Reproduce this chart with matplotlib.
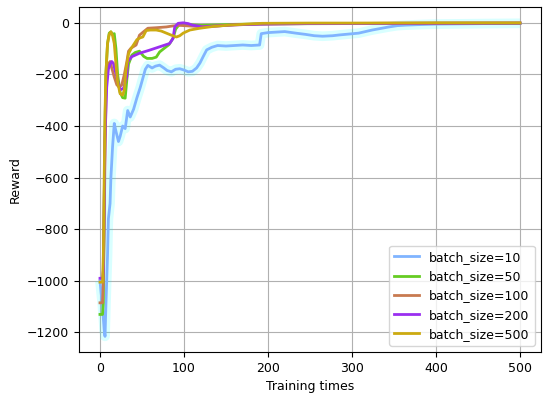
import matplotlib
matplotlib.use("Agg")
import matplotlib.pyplot as plt

# batch_size=10
x10 = [0, 3, 5, 6, 7, 9, 10, 12, 13, 15, 17, 19, 22, 24, 27, 30, 33, 36, 40, 44, 48, 51, 54, 57,
       62, 66, 71, 76, 80, 85, 90, 95, 100, 105, 110, 115, 119, 123, 127, 133, 140, 150, 160, 170,
       180, 190, 192, 200, 210, 220, 233, 245, 255, 265, 277, 285, 295, 308, 316, 324, 334, 344,
       354, 364, 380, 400, 430, 460, 500]
y10 = [-1000, -1100, -1190, -1215, -1100, -900, -760, -700, -600, -480, -390, -420, -460, -440,
       -400, -410, -340, -365, -335, -290, -250, -215, -180, -165, -175, -168, -164, -175, -185,
       -190, -180, -178, -183, -190, -188, -175, -156, -130, -105, -95, -88, -90, -88, -86, -88,
       -86, -42, -38, -36, -34, -40, -45, -50, -52, -50, -47, -44, -40, -34, -28, -22, -16, -11,
       -9, -7, -5, -4, -3, -2]

# batch_size=50
x50 = [0, 3, 4, 5, 6, 7, 9, 11, 13, 15, 17, 19, 21, 24, 27, 30, 32, 34, 38, 42, 47, 52, 56, 62,
       67, 71, 76, 82, 87, 90, 94, 100, 110, 120, 140, 160, 200, 300, 400, 500]
y50 = [-1130, -1130, -1085, -700, -400, -200, -80, -40, -35, -45, -42, -100, -200, -270, -290,
       -292, -220, -160, -125, -115, -110, -130, -138, -138, -133, -113, -100, -85, -60, -25, -8,
       -5, -8, -10, -8, -6, -4, -3, -2, -2]

# batch_size=100
x100 = [0, 3, 4, 5, 6, 7, 8, 10, 12, 14, 17, 20, 23, 26, 29, 32, 34, 37, 43, 47, 51, 57, 67, 79,
        87, 95, 105, 119, 140, 160, 190, 250, 350, 500]
y100 = [-1085, -1085, -1000, -800, -500, -300, -200, -160, -150, -175, -210, -240, -250, -240,
        -200, -150, -110, -98, -86, -48, -37, -21, -19, -16, -12, -10, -12, -15, -12, -8, -5, -3,
        -2, -1]

# batch_size=200
x200 = [0, 3, 4, 5, 6, 8, 10, 12, 14, 16, 18, 20, 22, 24, 28, 32, 33, 38, 47, 59, 71, 83, 87, 89,
        93, 99, 105, 110, 116, 122, 140, 160, 190, 250, 350, 500]
y200 = [-990, -990, -960, -700, -450, -250, -180, -160, -150, -157, -185, -208, -240, -260, -254,
        -208, -150, -131, -118, -106, -93, -80, -60, -16, -2, 0, -3, -9, -12, -16, -12, -8, -5, -3,
        -2, -1]

# batch_size=500
x500 = [0, 3, 4, 5, 6, 7, 9, 11, 13, 15, 17, 19, 21, 24, 27, 29, 31, 34, 37, 40, 44, 48, 51, 55,
        60, 67, 73, 79, 85, 91, 95, 99, 107, 119, 135, 154, 175, 193, 250, 300, 400, 500]
y500 = [-1005, -1005, -900, -600, -350, -200, -80, -45, -35, -50, -80, -160, -230, -275, -280,
        -260, -180, -120, -100, -85, -65, -58, -55, -30, -28, -28, -32, -40, -48, -55, -50, -40,
        -28, -21, -14, -9, -5, -2, -1, -1, 0, 0]

series = [
    (x10, y10, "#80b4ff", "batch_size=10"),
    (x50, y50, "#66cc22", "batch_size=50"),
    (x100, y100, "#c87a50", "batch_size=100"),
    (x200, y200, "#9a2ff0", "batch_size=200"),
    (x500, y500, "#ccaa11", "batch_size=500"),
]

plt.rcParams['font.size'] = 9
fig, ax = plt.subplots(figsize=(5.5, 3.96), dpi=100)
fig.subplots_adjust(left=0.1436, right=0.9836, top=0.982, bottom=0.111)

# faint glow under the smallest batch
ax.plot(x10, y10, color="#00ffff", alpha=0.15, linewidth=7, solid_capstyle="butt")

for xs, ys, c, lab in series:
    ax.plot(xs, ys, color=c, linewidth=2, label=lab)

ax.grid(True)
ax.set_xlabel("Training times")
ax.set_ylabel("Reward")
ax.legend(loc="lower right")

fig.savefig("out.png")
